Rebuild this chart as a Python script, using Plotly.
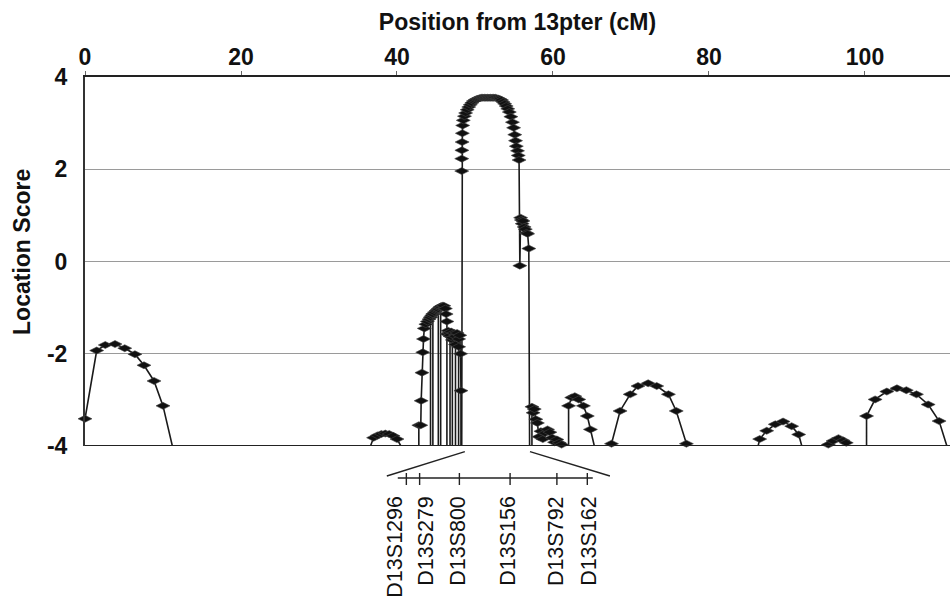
import plotly.graph_objects as go

# ---------------- data ----------------
position_cm = [
    0.0, 1.5, 2.6, 3.85, 5.1, 6.4, 7.56, 8.85, 10.0, 11.2,
    36.6, 37.0, 37.5, 38.0, 38.5, 39.0, 39.5, 40.0, 40.5,
    42.8, 42.8, 43.05, 43.1, 43.2, 43.3, 43.4, 43.5, 43.7, 43.9, 44.1, 44.3,
    44.3, 44.3, 44.45, 44.6, 44.6, 44.6, 44.8, 45.0, 45.15, 45.3,
    45.3, 45.3, 45.45, 45.6, 45.6, 45.6, 45.8, 46.0, 46.2, 46.3, 46.4,
    46.4, 46.4, 46.55, 46.7, 46.8, 46.8, 46.8, 46.95, 47.1, 47.1, 47.1,
    47.3, 47.5, 47.5, 47.5, 47.7, 47.9, 47.9, 47.9, 48.05, 48.15, 48.2, 48.2,
    48.3, 48.3, 48.3, 48.32, 48.35, 48.38, 48.42, 48.5, 48.65, 48.8, 49.0,
    49.2, 49.4, 49.6, 49.8, 50.0, 50.2, 50.4, 50.6, 50.8, 51.0, 51.2, 51.4,
    51.6, 51.8, 52.0, 52.2, 52.4, 52.6, 52.8, 53.0, 53.2, 53.4, 53.6, 53.8,
    54.0, 54.2, 54.4, 54.6, 54.8, 54.95, 55.1, 55.2, 55.3, 55.45, 55.55, 55.65,
    55.75, 55.85, 55.95, 56.05, 56.15, 56.3, 56.45, 56.6, 56.75, 56.9, 57.0,
    57.3, 57.3, 57.45, 57.6, 57.8, 58.0, 58.2, 58.45, 58.7, 59.0, 59.3, 59.6,
    59.9, 60.2, 60.5, 60.8, 61.1, 61.3,
    62.0, 62.0, 62.4, 62.8, 63.3, 63.9, 64.4, 64.8, 65.3,
    67.4, 67.5, 68.6, 69.9, 70.9, 72.2, 73.3, 74.8, 75.8, 77.1, 77.2,
    86.3, 86.5, 87.4, 88.5, 89.5, 90.6, 91.5, 91.9,
    95.2, 95.3, 95.9, 96.6, 97.2, 97.6, 97.9,
    100.2, 100.2, 101.3, 102.8, 104.1, 105.3, 106.6, 108.1, 109.5, 110.5,
]
location_score = [
    -3.41, -1.93, -1.81, -1.79, -1.88, -2.01, -2.25, -2.59, -3.13, -4,
    -4, -3.82, -3.77, -3.74, -3.73, -3.74, -3.78, -3.85, -4,
    -4, -3.55, -3.55, -3.02, -2.41, -1.97, -1.68, -1.45, -1.36, -1.30, -1.25, -1.21,
    -4, -1.21, -1.17, -1.14, -4, -1.14, -1.10, -1.07, -1.05, -1.03,
    -4, -1.03, -1.00, -0.98, -4, -0.98, -0.96, -0.96, -1.02, -1.14, -1.30,
    -4, -1.57, -1.50, -1.55, -1.62, -4, -1.60, -1.52, -1.70, -4, -1.65,
    -1.55, -1.80, -4, -1.62, -1.55, -1.85, -4, -1.68, -1.60, -2.00, -2.80, -4,
    -4, 1.96, 2.23, 2.41, 2.59, 2.78, 2.95, 3.06, 3.15, 3.22, 3.29,
    3.35, 3.40, 3.44, 3.48, 3.50, 3.52, 3.53, 3.54, 3.55, 3.55, 3.55, 3.55,
    3.55, 3.55, 3.55, 3.55, 3.55, 3.55, 3.54, 3.53, 3.52, 3.50, 3.46, 3.42,
    3.37, 3.31, 3.24, 3.14, 3.02, 2.90, 2.75, 2.62, 2.50, 2.40, 2.30, 2.20,
    -0.09, 0.95, 0.90, 0.82, 0.88, 0.75, 0.70, 0.62, 0.60, 0.28, -4,
    -4, -3.15, -3.28, -3.20, -3.42, -3.50, -3.80, -3.68, -3.85, -3.72, -3.64, -3.70,
    -3.82, -3.92, -3.86, -3.93, -3.97, -4,
    -4, -3.13, -2.95, -2.92, -2.99, -3.13, -3.35, -3.64, -4,
    -4, -3.95, -3.24, -2.88, -2.70, -2.64, -2.70, -2.88, -3.24, -3.95, -4,
    -4, -3.85, -3.67, -3.53, -3.47, -3.57, -3.75, -4,
    -4, -3.97, -3.89, -3.83, -3.88, -3.93, -4,
    -4, -3.35, -2.99, -2.82, -2.75, -2.79, -2.88, -3.10, -3.46, -4,
]

x_tick_vals = [0, 20, 40, 60, 80, 100]
y_tick_vals = [-4, -2, 0, 2, 4]
y_tick_text = [str(v) for v in y_tick_vals]

marker_names = ["D13S1296", "D13S279", "D13S800", "D13S156", "D13S792", "D13S162"]
marker_map_pos = [41.2, 42.9, 48.0, 54.5, 60.5, 64.4]   # positions on the expanded map (axis units)
label_shift = [-1.5, 0.8, -0.2, -0.3, -0.1, 0.2]          # label offsets to avoid overlap
zoom_from = [48.7, 57.05]                                # region of the axis that is expanded
map_span = [40.1, 65.1]
zoom_to = [38.7, 67.3]

FONT = "Liberation Sans, Arial, Helvetica, sans-serif"
Y_FLOOR = -4

# ---------------- figure ----------------
fig = go.Figure()

fig.add_trace(go.Scatter(
    x=position_cm, y=location_score, mode="lines",
    line=dict(color="#1a1a1a", width=1.6),
    hoverinfo="skip", showlegend=False,
))

mx = [x for x, y in zip(position_cm, location_score) if y > Y_FLOOR]
my = [y for y in location_score if y > Y_FLOOR]
fig.add_trace(go.Scatter(
    x=mx, y=my, mode="markers",
    marker=dict(symbol="diamond-wide", size=10, color="#111111",
                line=dict(color="#444444", width=0.6)),
    cliponaxis=False, showlegend=False,
))

shapes = [
    dict(type="line", xref="paper", yref="y", x0=0, x1=1, y0=Y_FLOOR, y1=Y_FLOOR,
         line=dict(color="#222222", width=2), layer="above"),
]

map_y = -0.0867
tick_top, tick_bot = -0.0732, -0.1057
zoom_y0, zoom_y1 = -0.0154, -0.0813

shapes.append(dict(type="line", xref="x", yref="paper", x0=map_span[0], x1=map_span[1],
                   y0=map_y, y1=map_y, line=dict(color="#222222", width=1.6)))
for p in marker_map_pos:
    shapes.append(dict(type="line", xref="x", yref="paper", x0=p, x1=p,
                       y0=tick_top, y1=tick_bot, line=dict(color="#222222", width=1.4)))
for a, b in zip(zoom_from, zoom_to):
    shapes.append(dict(type="line", xref="x", yref="paper", x0=a, x1=b,
                       y0=zoom_y0, y1=zoom_y1, line=dict(color="#222222", width=1.4)))

annotations = []
for name, p, s in zip(marker_names, marker_map_pos, label_shift):
    annotations.append(dict(
        x=p + s, y=-0.1328, xref="x", yref="paper", text=name, textangle=-90,
        xanchor="center", yanchor="top", showarrow=False, borderpad=0,
        font=dict(family=FONT, size=21.5, color="#111111"),
    ))

# y-axis title as a free annotation for exact placement
annotations.append(dict(
    x=-0.0728, y=0.526, xref="paper", yref="paper", text="Location Score",
    textangle=-90, xanchor="center", yanchor="middle", showarrow=False,
    font=dict(family=FONT, size=23, weight="bold", color="#111111"),
))

fig.update_layout(
    width=950, height=598,
    margin=dict(l=85, r=0, t=77, b=152, autoexpand=False),
    paper_bgcolor="white", plot_bgcolor="white",
    font=dict(family=FONT, color="#111111"),
    shapes=shapes, annotations=annotations,
    xaxis=dict(
        side="top", range=[0, 110.9], tickvals=x_tick_vals,
        showgrid=False, zeroline=False, automargin=False,
        showline=True, linecolor="#222222", linewidth=2,
        ticks="outside", ticklen=4, tickcolor="#666666",
        tickfont=dict(family=FONT, size=23, weight="bold", color="#111111"),
        ticklabelstandoff=-3,
        title=dict(text="Position from 13pter (cM)", standoff=7,
                   font=dict(family=FONT, size=23, weight="bold", color="#111111")),
    ),
    yaxis=dict(
        range=[-4, 4], tickvals=y_tick_vals, ticktext=y_tick_text,
        showgrid=True, gridcolor="#9a9a9a", gridwidth=1,
        zeroline=False, automargin=False,
        showline=True, linecolor="#333333", linewidth=2,
        ticks="", ticklabelstandoff=11,
        tickfont=dict(family=FONT, size=23, weight="bold", color="#111111"),
    ),
)

fig.write_html("out.html", config={"displayModeBar": False},
               post_script="document.body.style.margin='0px';")
